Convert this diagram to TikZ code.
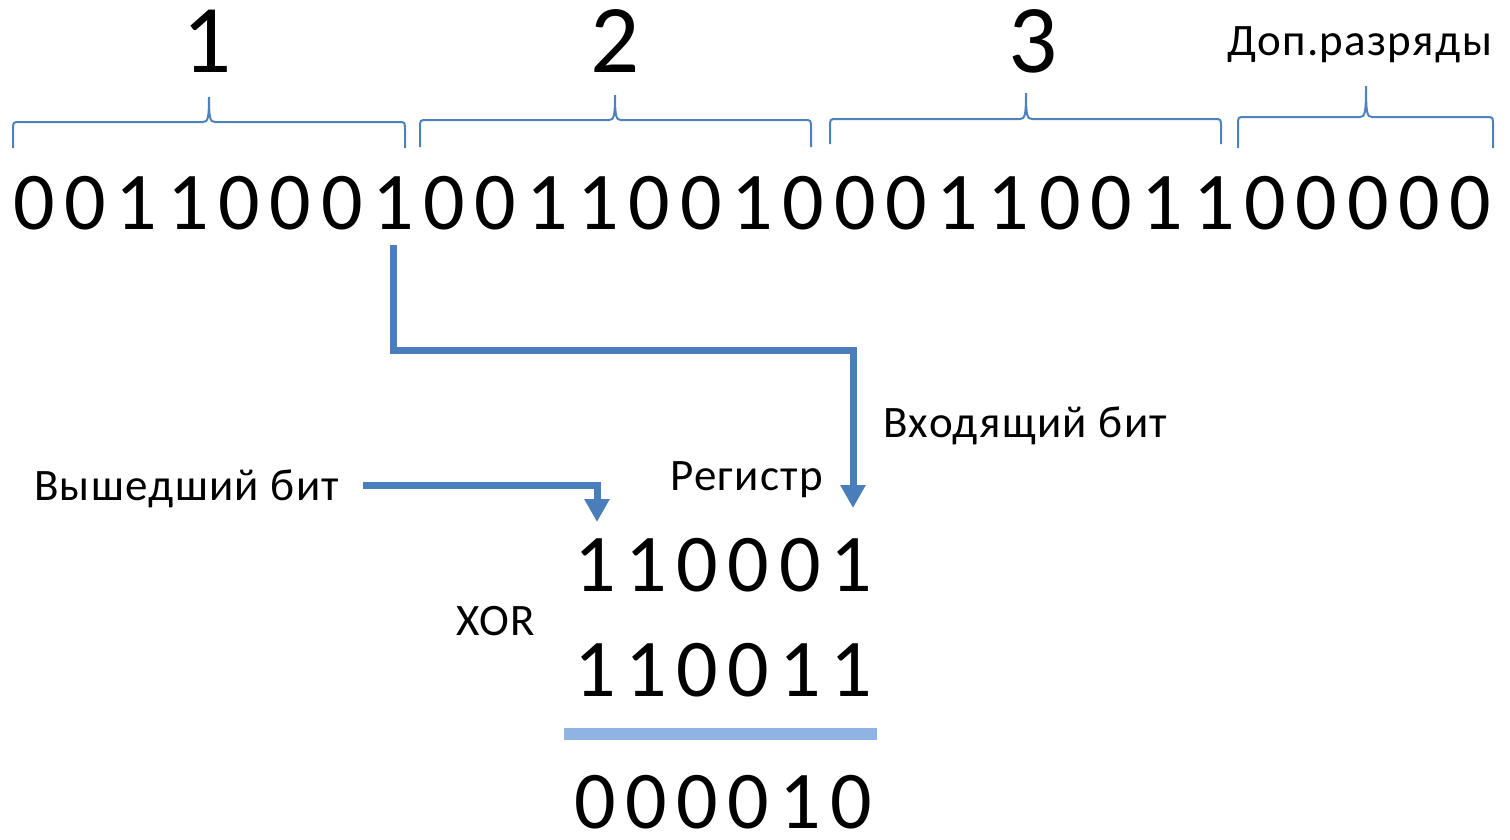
\documentclass[tikz,border=0pt]{standalone}
\usepackage{fontspec}
\setmainfont{Carlito}
\usetikzlibrary{arrows.meta}
\definecolor{braceblue}{HTML}{4F81BD}
\definecolor{flowblue}{HTML}{4A7EBB}
\definecolor{rulelight}{HTML}{8EB4E3}
% curly brace over a group of bits: #1 left x, #2 right x, #3 tip x,
% #4 bar y, #5 tip y, #6 foot y
\newcommand{\bitbrace}[6]{%
  \draw[brace] (#1,#6) -- (#1,#4+8) .. controls (#1,#4) and (#1,#4) .. (#1+7,#4)
    -- (#3-6,#4) .. controls (#3-1,#4) and (#3,#4-4) .. (#3,#5)
    .. controls (#3,#4-4) and (#3+1,#4) .. (#3+6,#4)
    -- (#2-7,#4) .. controls (#2,#4) and (#2,#4) .. (#2,#4+8) -- (#2,#6);}
\newfontfamily\labelfont[LetterSpace=3]{Carlito}
\begin{document}
\begin{tikzpicture}[x=1pt,y=-1pt,
  bit/.style={inner sep=0pt,anchor=base,font=\fontsize{82}{82}\selectfont},
  grp/.style={inner sep=0pt,anchor=base,font=\fontsize{97}{97}\selectfont},
  lbl/.style={inner sep=0pt,anchor=base west,font=\labelfont\fontsize{45}{52}\selectfont},
  brace/.style={draw=braceblue,line width=2pt},
  flow/.style={draw=flowblue,line width=7pt,
    -{Triangle[length=23pt,width=24pt]}},
  sumline/.style={draw=rulelight,line width=12pt}]
\useasboundingbox (0,0) rectangle (1510,839);

% message bits followed by the appended zero bits
\foreach \d [count=\i from 0] in {0,0,1,1,0,0,0,1,0,0,1,1,0,0,1,0,0,0,1,1,0,0,1,1,0,0,0,0,0}
  \node[bit] (b\i) at ({34+51.3*\i},229) {\d};

% group numbers and braces
\node[grp] (g1) at (207,72) {1};
\node[grp] (g2) at (615,72) {2};
\node[grp] (g3) at (1033,72) {3};
\node[lbl] (extra) at (1227,55) {Доп.разряды};
\bitbrace{13}{405}{209}{122}{97}{148}
\bitbrace{420}{811}{615}{120}{95}{147}
\bitbrace{830}{1221}{1026}{119}{93}{144}
\bitbrace{1238}{1493}{1366}{117}{86}{148}

% register contents, divisor and result
\foreach \d [count=\i from 0] in {1,1,0,0,0,1}
  \node[bit] (r\i) at ({595+51.2*\i},591) {\d};
\foreach \d [count=\i from 0] in {1,1,0,0,1,1}
  \node[bit] (p\i) at ({595+51.2*\i},696) {\d};
\foreach \d [count=\i from 0] in {0,0,0,0,1,0}
  \node[bit] (s\i) at ({595+51.2*\i},828) {\d};
\draw[sumline] (564,734) -- (877,734);

% labels
\node[lbl] (inLbl) at (883,437) {Входящий бит};
\node[lbl] (regLbl) at (670,490) {Регистр};
\node[lbl] (outLbl) at (34,500) {Вышедший бит};
\node[lbl] (xorLbl) at (456,635) {XOR};

% incoming and outgoing bit paths
\coordinate (turn) at (853,350);
\coordinate (inTip) at (853,508);
\coordinate (outTip) at (597,522);
\draw[flow] ([yshift=-16pt]b7.south) |- (turn) -- (inTip);
\draw[flow] ([xshift=24pt,yshift=15pt]outLbl.base east) -| (outTip);
\end{tikzpicture}
\end{document}
